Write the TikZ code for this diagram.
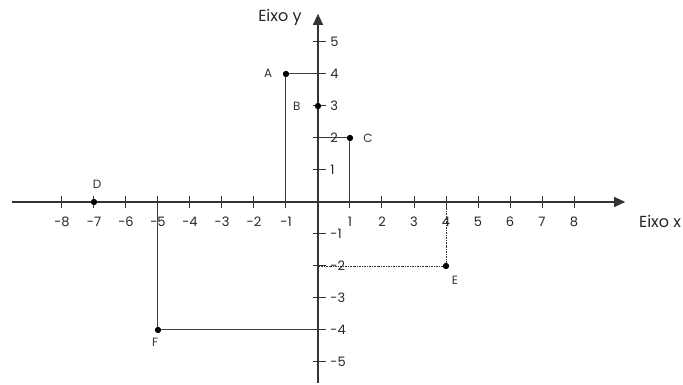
\documentclass[tikz,border=0pt]{standalone}
\usepackage{fontspec}
\setmainfont{Poppins}
\usetikzlibrary{arrows.meta}
\begin{document}
\begin{tikzpicture}[x=32pt,y=32pt,
  axis/.style={draw=black!80, line width=1.1pt},
  guide/.style={draw=black!75, line width=1pt},
  dotguide/.style={draw=black!80, line width=0.9pt, dash pattern=on 2pt off 1pt on 0.8pt off 1pt},
  tickmark/.style={draw=black!80, line width=1pt},
  ptdot/.style={circle, fill=black, inner sep=0pt, minimum size=6pt},
  num/.style={font=\fontsize{13}{13}\selectfont, text=black!85, inner sep=0pt},
  lbl/.style={font=\fontsize{12}{12}\selectfont, text=black!80, inner sep=0pt},
  axname/.style={font=\fontsize{16}{16}\selectfont, text=black!85, inner sep=0pt}]
\useasboundingbox (-9.9375,-5.71875) rectangle (11.40625,6.3125);
% free ends
\coordinate (xl) at (-9.56,0);
\coordinate (xr) at (9.6,0);
\coordinate (yb) at (0,-5.66);
\coordinate (yt) at (0,5.88);
\coordinate (Ax) at (-1,0);
\coordinate (Ay) at (0,4);
\coordinate (Cx) at (1,0);
\coordinate (Cy) at (0,2);
\coordinate (Ex) at (4,0);
\coordinate (Ey) at (0,-2);
\coordinate (Fx) at (-5,0);
\coordinate (Fy) at (0,-4);
% points
\node[ptdot] (A) at (-1,4) {};
\node[ptdot] (B) at (0,3) {};
\node[ptdot] (C) at (1,2) {};
\node[ptdot] (D) at (-7,0) {};
\node[ptdot] (E) at (4,-2) {};
\node[ptdot] (F) at (-5,-4) {};
% guides
\draw[guide] (A) -- (Ax);
\draw[guide] (A) -- (Ay);
\draw[guide] (C) -- (Cx);
\draw[guide] (C) -- (Cy);
\draw[guide] (F) -- (Fx);
\draw[guide] (F) -- (Fy);
\draw[dotguide] (E) -- (Ex);
\draw[dotguide] (E) -- (Ey);
% axes
\draw[axis,-{Triangle[length=11pt,width=10pt]}] (xl) -- (xr);
\draw[axis,-{Triangle[length=11pt,width=10pt]}] (yb) -- (yt);
% ticks
\foreach \i [count=\k] in {-8,-7,-6,-5,-4,-3,-2,-1,1,2,3,4,5,6,7,8} {
  \draw[tickmark] (\i,-0.18) -- (\i,0.18);
  \node[num] (xn\k) at (\i,-0.62) {\i};
}
\foreach \j [count=\k] in {-5,-4,-3,-2,-1,1,2,3,4,5} {
  \draw[tickmark] (-0.16,\j) -- (0.26,\j);
  \node[num, anchor=west] (yn\k) at (0.38,\j) {\j};
}
% redraw dots on top
\foreach \p in {A,B,C,D,E,F} { \fill (\p) circle (3pt); }
% labels
\node[lbl] (lA) at (-1.56,4.03) {A};
\node[lbl] (lB) at (-0.66,3.0) {B};
\node[lbl] (lC) at (1.56,2.0) {C};
\node[lbl] (lD) at (-6.9,0.56) {D};
\node[lbl] (lE) at (4.28,-2.44) {E};
\node[lbl] (lF) at (-5.09,-4.4) {F};
\node[axname] (ny) at (-1.19,5.78) {Eixo y};
\node[axname] (nx) at (10.69,-0.62) {Eixo x};
\end{tikzpicture}
\end{document}
